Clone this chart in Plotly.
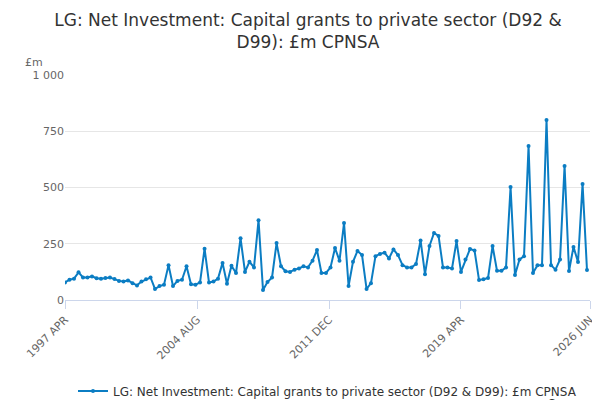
import plotly.graph_objects as go
import pandas as pd

values = [78, 90, 95, 123,
          100, 100, 105, 97,
          95, 98, 100, 93,
          85, 82, 87, 75,
          65, 82, 92, 100,
          49, 62, 68, 155,
          62, 85, 90, 150,
          70, 68, 78, 228,
          78, 82, 95, 165,
          72, 152, 120, 275,
          125, 170, 145, 355,
          44, 80, 100, 253,
          150, 128, 125, 135,
          140, 150, 145, 175,
          222, 120, 120, 145,
          231, 175, 342, 62,
          170, 218, 200, 49,
          75, 195, 205, 210,
          185, 225, 200, 155,
          145, 145, 160, 265,
          115, 240, 298, 285,
          145, 145, 140, 262,
          125, 180, 227, 220,
          89, 92, 98, 240,
          130, 130, 145, 502,
          111, 180, 195, 684,
          120, 155, 155, 800,
          155, 135, 180, 596,
          129, 236, 169, 516, 133]
dates = pd.date_range("1997-04-01", periods=len(values), freq="QS")
tick_dates = ["1997-04-01", "2004-08-01", "2011-12-01", "2019-04-01", "2026-06-01"]
tick_labels = ["1997 APR", "2004 AUG", "2011 DEC", "2019 APR", "2026 JUN"]
series_name = "LG: Net Investment: Capital grants to private sector (D92 & D99): £m CPNSA"

fig = go.Figure(go.Scatter(
    x=dates, y=values, mode="lines+markers", name=series_name,
    line=dict(color="#0b7dc3", width=2), marker=dict(size=4, color="#0b7dc3")))

fig.update_layout(
    width=600, height=400, paper_bgcolor="white", plot_bgcolor="white",
    font=dict(family="DejaVu Sans", color="#333"),
    title=dict(text="LG: Net Investment: Capital grants to private sector (D92 &<br>D99): £m CPNSA",
               x=0.5, xanchor="center", y=0.955, yanchor="top", font=dict(size=17, color="#333")),
    margin=dict(l=57, r=18, t=67, b=108, autoexpand=False),
    showlegend=True,
    legend=dict(orientation="h", x=0.5, xanchor="center", y=-0.34, yanchor="top",
                font=dict(size=12, color="#333")),
    xaxis=dict(tickvals=pd.to_datetime(tick_dates), ticktext=tick_labels, tickangle=-45,
               range=[pd.Timestamp("1997-04-01"), pd.Timestamp("2026-06-01")],
               automargin=False,
               showgrid=False, showline=True, linecolor="#ccd6eb", ticks="outside",
               tickcolor="#ccd6eb", ticklen=8, tickfont=dict(size=11, color="#666")),
    yaxis=dict(range=[0, 1000], tickvals=[0, 250, 500, 750, 1000], automargin=False,
               ticktext=["0", "250", "500", "750", "1 000"],
               gridcolor="#e6e6e6", zeroline=False, tickfont=dict(size=11, color="#666")),
    annotations=[
        dict(text="£m", xref="paper", yref="paper", x=-0.08, y=1.02, xanchor="left",
             yanchor="bottom", showarrow=False, font=dict(size=11, color="#666")),
        dict(text="Source:", xref="paper", yref="paper", x=1.01, y=-0.42, xanchor="right",
             yanchor="top", showarrow=False, font=dict(size=12, color="#333")),
    ])
fig.write_html("out.html")
